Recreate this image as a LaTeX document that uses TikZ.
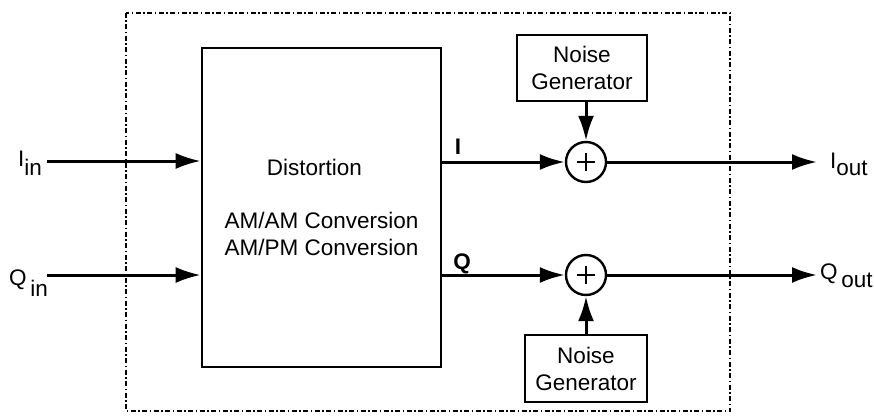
\documentclass[tikz,border=0pt]{standalone}
\usepackage{fontspec}
\setmainfont{Liberation Sans}
\usetikzlibrary{arrows.meta}
\begin{document}
\begin{tikzpicture}[x=1pt,y=-1pt,
  blk/.style={draw,line width=2.6pt,inner sep=0pt},
  sig/.style={line width=3pt,-{Latex[length=25pt,width=16pt]}},
  lbl/.style={font=\fontsize{22.5}{27}\selectfont}]
  \useasboundingbox (0,0) rectangle (874,417);
  % frame round the model
  \draw[line width=2pt,dash pattern=on 5pt off 2.5pt on 1.5pt off 2.5pt] (126,13) rectangle (730,411);

  \node[blk,lbl,align=center,minimum width=239pt,minimum height=319pt] (dist) at (321.5,207.5)
    {\hbox{Distortion\kern14pt}\\[26pt]AM/AM Conversion\\AM/PM Conversion};
  \node[blk,lbl,align=center,minimum width=130pt,minimum height=66pt] (ngI) at (582,68) {Noise\\Generator};
  \node[blk,lbl,align=center,minimum width=122pt,minimum height=67pt] (ngQ) at (586,368.5) {Noise\\Generator};
  \node[circle,draw,line width=2.4pt,minimum size=40pt,inner sep=0pt] (sumI) at (586,162) {};
  \node[circle,draw,line width=2.4pt,minimum size=40pt,inner sep=0pt] (sumQ) at (586,275) {};
  \foreach \s in {sumI,sumQ} {
    \draw[line width=2.2pt] ([xshift=-9pt]\s.center) -- ([xshift=9pt]\s.center);
    \draw[line width=2.2pt] ([yshift=-9pt]\s.center) -- ([yshift=9pt]\s.center);
  }

  % inputs and outputs
  \coordinate (Iin) at (47,161);
  \coordinate (Qin) at (47,275);
  \coordinate (Iout) at (817,162);
  \coordinate (Qout) at (817,275);
  \node[lbl,anchor=base east,inner sep=2pt] (IinL) at (44,166) {I\raisebox{-9pt}{in}};
  \node[lbl,anchor=base east,inner sep=0pt] (QinL) at (48,285) {Q\,\raisebox{-11pt}{in}};
  \node[lbl,anchor=base west,inner sep=0pt] (IoutL) at (830,168) {I\raisebox{-7pt}{out}};
  \node[lbl,anchor=base west,inner sep=0pt] (QoutL) at (820,279) {Q\,\raisebox{-8pt}{out}};

  \draw[sig] (Iin) -- (Iin -| dist.west);
  \draw[sig] (Qin) -- (Qin -| dist.west);
  \draw[sig] (dist.east |- sumI) -- (sumI.west);
  \draw[sig] (dist.east |- sumQ) -- (sumQ.west);
  \draw[sig] (ngI.south -| sumI) -- (sumI.north);
  \draw[sig] (ngQ.north -| sumQ) -- (sumQ.south);
  \draw[sig] (sumI.east) -- (Iout);
  \draw[sig] (sumQ.east) -- (Qout);

  \node[lbl,font=\fontsize{22.5}{27}\selectfont\bfseries] (Ilbl) at (458,147) {I};
  \node[lbl,font=\fontsize{22.5}{27}\selectfont\bfseries] (Qlbl) at (462,264) {Q};
\end{tikzpicture}
\end{document}
